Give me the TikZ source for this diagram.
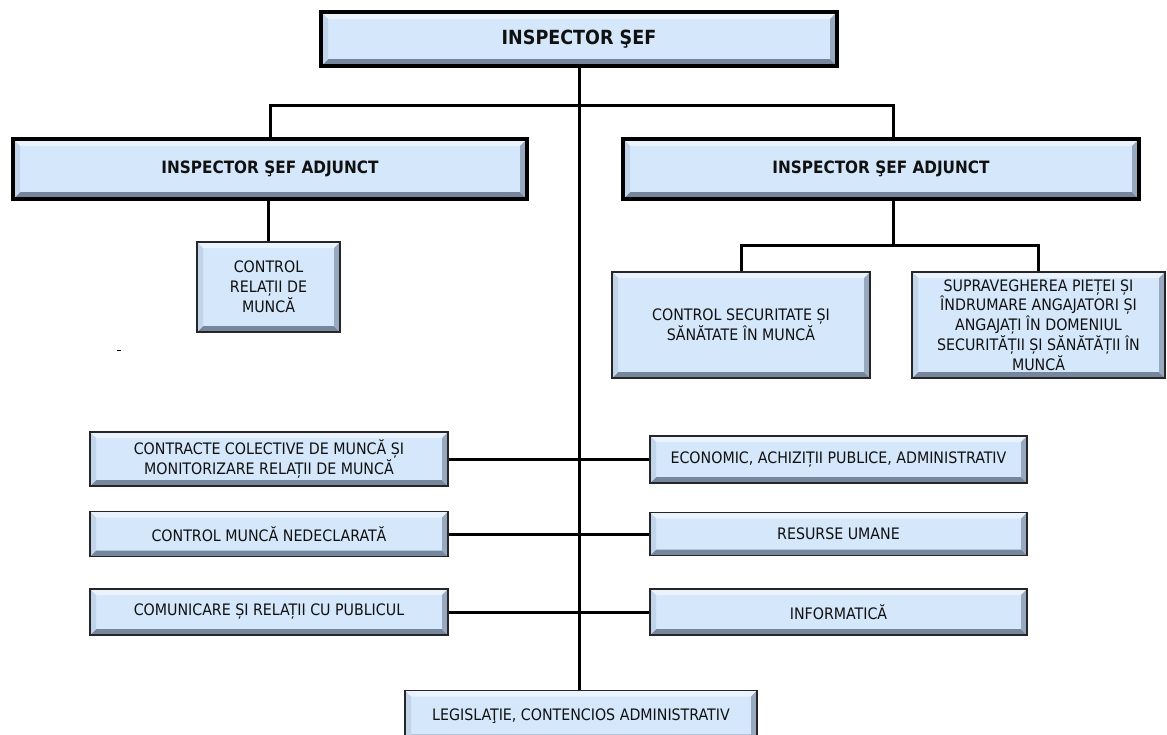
\documentclass[tikz,border=0pt]{standalone}
\usepackage{fontspec}
\setmainfont{DejaVu Sans Condensed}
\definecolor{face}{HTML}{D5E7FA}
\definecolor{bvT}{HTML}{EAF3FD}
\definecolor{bvL}{HTML}{C2D4EA}
\definecolor{bvR}{HTML}{97A8BF}
\definecolor{bvB}{HTML}{76869C}
\definecolor{txt}{HTML}{111111}
\tikzset{
  bevel/.style={path picture={
    \path (path picture bounding box.north west) coordinate (pbnw)
          (path picture bounding box.north east) coordinate (pbne)
          (path picture bounding box.south west) coordinate (pbsw)
          (path picture bounding box.south east) coordinate (pbse);
    \fill[bvT] (pbnw) -- (pbne) -- ([xshift=-#1,yshift=-#1]pbne) -- ([xshift=#1,yshift=-#1]pbnw) -- cycle;
    \fill[bvB] (pbsw) -- (pbse) -- ([xshift=-#1,yshift=#1]pbse) -- ([xshift=#1,yshift=#1]pbsw) -- cycle;
    \fill[bvL] (pbnw) -- (pbsw) -- ([xshift=#1,yshift=#1]pbsw) -- ([xshift=#1,yshift=-#1]pbnw) -- cycle;
    \fill[bvR] (pbne) -- (pbse) -- ([xshift=-#1,yshift=#1]pbse) -- ([xshift=-#1,yshift=-#1]pbne) -- cycle;
  }},
  bigbox/.style={draw=black, line width=4pt, fill=face, bevel=7pt, text=txt,
    font=\fontsize{17}{20}\selectfont\bfseries, inner sep=0pt},
  smallbox/.style={draw=black!85, line width=1.3pt, fill=face, bevel=6pt, text=txt,
    font=\fontsize{15.8}{19.8}\selectfont, align=center, inner sep=0pt},
  conn/.style={draw=black, line width=3pt},
}
\begin{document}
\begin{tikzpicture}[x=1pt,y=-1pt]
\useasboundingbox (0,0) rectangle (1167,734);
% top level
\node[bigbox, minimum width=516pt, minimum height=54pt, font=\fontsize{19.5}{22}\selectfont\bfseries] (sef) at (579,39) {INSPECTOR ŞEF};
\node[bigbox, minimum width=514pt, minimum height=60pt] (isa1) at (270,169) {INSPECTOR ŞEF ADJUNCT};
\node[bigbox, minimum width=516pt, minimum height=60pt] (isa2) at (881,169) {INSPECTOR ŞEF ADJUNCT};
% level 2
\node[smallbox, minimum width=143pt, minimum height=90pt] (crm) at (268.5,287) {CONTROL\\RELAȚII DE\\MUNCĂ};
\node[smallbox, minimum width=258pt, minimum height=106pt] (css) at (741,325) {CONTROL SECURITATE ȘI\\SĂNĂTATE ÎN MUNCĂ};
\node[smallbox, minimum width=253pt, minimum height=106pt] (sup) at (1038.5,325) {SUPRAVEGHEREA PIEȚEI ȘI\\ÎNDRUMARE ANGAJATORI ȘI\\ANGAJAȚI ÎN DOMENIUL\\SECURITĂȚII ȘI SĂNĂTĂȚII ÎN\\MUNCĂ};
% left column
\node[smallbox, minimum width=358pt, minimum height=54pt] (ccm) at (269,459) {CONTRACTE COLECTIVE DE MUNCĂ ȘI\\MONITORIZARE RELAȚII DE MUNCĂ};
\node[smallbox, minimum width=358pt, minimum height=45pt] (cmn) at (269,534) {CONTROL MUNCĂ NEDECLARATĂ};
\node[smallbox, minimum width=358pt, minimum height=46pt] (crp) at (269,612) {COMUNICARE ȘI RELAȚII CU PUBLICUL};
% right column
\node[smallbox, minimum width=377pt, minimum height=47pt] (eca) at (838.5,459.5) {ECONOMIC, ACHIZIȚII PUBLICE, ADMINISTRATIV};
\node[smallbox, minimum width=377pt, minimum height=43pt] (ru) at (838.5,534) {RESURSE  UMANE};
\node[smallbox, minimum width=377pt, minimum height=46pt] (inf) at (838.5,612) {INFORMATICĂ};
% bottom
\node[smallbox, minimum width=352pt, minimum height=50pt, anchor=north] (leg) at (581,690) {LEGISLAŢIE, CONTENCIOS ADMINISTRATIV};
% connectors
\coordinate (jL) at (270,105);
\coordinate (jR) at (893,105);
\coordinate (jB) at (893,245);
\draw[conn] (sef.south) -- (leg.north -| sef.south);
\draw[conn] (isa1.north -| jL) -- (jL) -- (jR) -- (jR |- isa2.north);
\draw[conn] (isa1.south -| crm.north) -- (crm.north);
\draw[conn] (jB |- isa2.south) -- (jB);
\draw[conn] (css.north) |- (jB) -| (sup.north);
\draw[conn] (ccm.east) -- (eca.west |- ccm.east);
\draw[conn] (cmn.east) -- (ru.west);
\draw[conn] (crp.east) -- (inf.west);
% stray mark
\draw[line width=1pt] (117,350) -- (121,350);
\end{tikzpicture}
\end{document}
